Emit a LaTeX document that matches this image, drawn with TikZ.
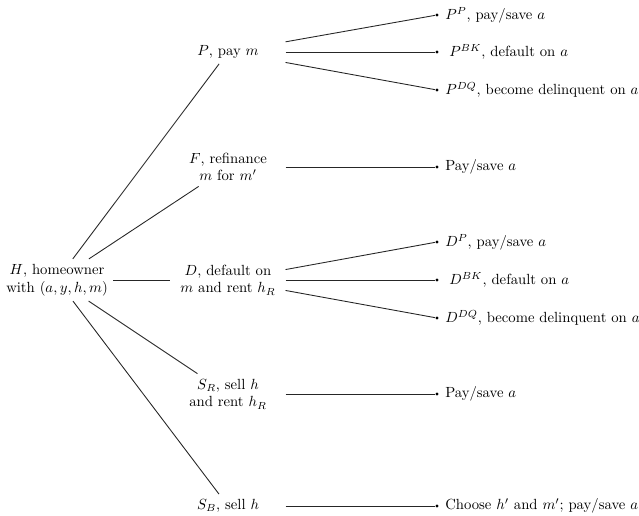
\documentclass[tikz,border=0pt]{standalone}
\usetikzlibrary{positioning}
\tikzset{
  every picture/.style={line width=0.6pt},
  state/.style={align=center, inner sep=3.33pt},
  choice/.style={align=center, text width=71pt, inner sep=3.33pt},
  outcome/.style={circle, fill=black, inner sep=0pt, minimum size=2.2pt},
  outlabel/.style={inner sep=3.33pt, label distance=0.6pt},
  branch/.style={draw=black!85},
}

\begin{document}
\begin{tikzpicture}[x=0.68pt, y=-0.68pt]
  \useasboundingbox (0,0) rectangle (639,515);
  % the homeowner
  \node[state] (H) at (57,280) {$H$, homeowner\\with $(a, y, h, m)$};
  % first choice
  \node[choice] (P)  at (228,52)  {$P$, pay $m$};
  \node[choice] (F)  at (228,167) {$F$, refinance\\$m$ for $m'$};
  \node[choice] (D)  at (228,280) {$D$, default on\\$m$ and rent $h_R$};
  \node[choice] (SR) at (228,394) {$S_R$, sell $h$\\and rent $h_R$};
  \node[choice] (SB) at (228,506) {$S_B$, sell $h$};
  % outcomes
  \node[outcome, label={[outlabel]right:{$P^P$, pay/save $a$}}] (PP) at (437,15) {};
  \node[outcome, label={[outlabel, xshift=2.7pt]right:{$P^{BK}$, default on $a$}}] (PBK) at (437,52) {};
  \node[outcome, label={[outlabel]right:{$P^{DQ}$, become delinquent on $a$}}] (PDQ) at (437,90) {};
  \node[outcome, label={[outlabel]right:{Pay/save $a$}}] (FP) at (437,167) {};
  \node[outcome, label={[outlabel]right:{$D^P$, pay/save $a$}}] (DP) at (437,242) {};
  \node[outcome, label={[outlabel, xshift=2.7pt]right:{$D^{BK}$, default on $a$}}] (DBK) at (437,280) {};
  \node[outcome, label={[outlabel]right:{$D^{DQ}$, become delinquent on $a$}}] (DDQ) at (437,318) {};
  \node[outcome, label={[outlabel]right:{Pay/save $a$}}] (SRP) at (437,394) {};
  \node[outcome, label={[outlabel]right:{Choose $h'$ and $m'$; pay/save $a$}}] (SBP) at (437,506) {};
  % branches
  \foreach \c in {P,F,D,SR,SB} \draw[branch] (H) -- (\c);
  \foreach \c in {PP,PBK,PDQ} \draw[branch] (P) -- (\c);
  \foreach \c in {DP,DBK,DDQ} \draw[branch] (D) -- (\c);
  \draw[branch] (F) -- (FP);
  \draw[branch] (SR) -- (SRP);
  \draw[branch] (SB) -- (SBP);
\end{tikzpicture}
\end{document}
